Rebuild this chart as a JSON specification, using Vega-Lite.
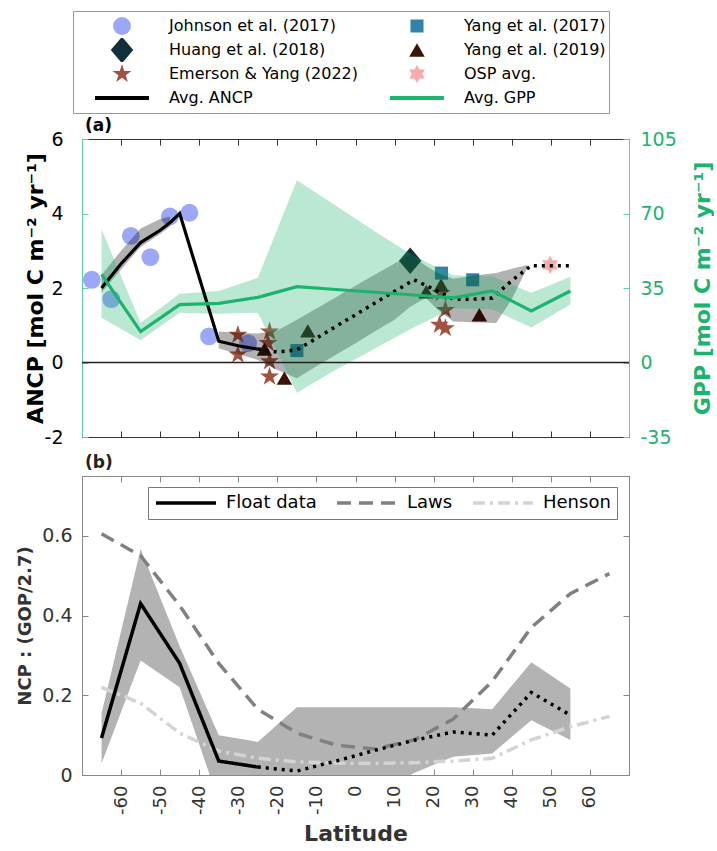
{
  "$schema": "https://vega.github.io/schema/vega-lite/v6.json",
  "padding": {"left": 16, "right": 0, "top": 10, "bottom": 0},
  "config": {"font": "DejaVu Sans", "view": {"stroke": null}, "axis": {"grid": false}},
  "spacing": 5,
  "resolve": {
    "scale": {"x": "independent", "y": "independent", "color": "independent", "shape": "independent", "size": "independent", "strokeDash": "independent"},
    "legend": {"color": "independent", "strokeDash": "independent"}
  },
  "datasets": {
    "markers": [
      {"src": "Johnson et al. (2017)", "lat": -67.5, "ancp": 2.22},
      {"src": "Johnson et al. (2017)", "lat": -62.5, "ancp": 1.7},
      {"src": "Johnson et al. (2017)", "lat": -57.5, "ancp": 3.4},
      {"src": "Johnson et al. (2017)", "lat": -52.5, "ancp": 2.83},
      {"src": "Johnson et al. (2017)", "lat": -47.5, "ancp": 3.92},
      {"src": "Johnson et al. (2017)", "lat": -42.5, "ancp": 4.02},
      {"src": "Johnson et al. (2017)", "lat": -37.5, "ancp": 0.7},
      {"src": "Johnson et al. (2017)", "lat": -27.5, "ancp": 0.52},
      {"src": "Emerson & Yang (2022)", "lat": -30.1, "ancp": 0.74},
      {"src": "Emerson & Yang (2022)", "lat": -30.1, "ancp": 0.21},
      {"src": "Emerson & Yang (2022)", "lat": -22.0, "ancp": 0.83},
      {"src": "Emerson & Yang (2022)", "lat": -22.4, "ancp": 0.52},
      {"src": "Emerson & Yang (2022)", "lat": -22.0, "ancp": 0.03},
      {"src": "Emerson & Yang (2022)", "lat": -22.0, "ancp": -0.38},
      {"src": "Emerson & Yang (2022)", "lat": 21.9, "ancp": 1.86},
      {"src": "Emerson & Yang (2022)", "lat": 23.0, "ancp": 1.41},
      {"src": "Emerson & Yang (2022)", "lat": 21.5, "ancp": 1.01},
      {"src": "Emerson & Yang (2022)", "lat": 23.0, "ancp": 0.92},
      {"src": "Yang et al. (2019)", "lat": -23.3, "ancp": 0.36},
      {"src": "Yang et al. (2019)", "lat": -18.2, "ancp": -0.42},
      {"src": "Yang et al. (2019)", "lat": -12.2, "ancp": 0.85},
      {"src": "Yang et al. (2019)", "lat": 18.1, "ancp": 1.9},
      {"src": "Yang et al. (2019)", "lat": 21.9, "ancp": 2.08},
      {"src": "Yang et al. (2019)", "lat": 31.7, "ancp": 1.28},
      {"src": "Yang et al. (2017)", "lat": -15.0, "ancp": 0.32},
      {"src": "Yang et al. (2017)", "lat": 22.0, "ancp": 2.4},
      {"src": "Yang et al. (2017)", "lat": 30.0, "ancp": 2.22},
      {"src": "Huang et al. (2018)", "lat": 14.0, "ancp": 2.73},
      {"src": "OSP avg.", "lat": 49.8, "ancp": 2.62}
    ],
    "ancp_solid": [
      {"lat": -65, "ancp": 2.0}, {"lat": -60, "ancp": 2.65}, {"lat": -55, "ancp": 3.22},
      {"lat": -50, "ancp": 3.55}, {"lat": -47.5, "ancp": 3.75}, {"lat": -45, "ancp": 4.0},
      {"lat": -35, "ancp": 0.57}, {"lat": -30, "ancp": 0.45}, {"lat": -25, "ancp": 0.36}
    ],
    "ancp_dot": [
      {"lat": -25, "ancp": 0.36}, {"lat": -20, "ancp": 0.28}, {"lat": -15, "ancp": 0.34},
      {"lat": -10, "ancp": 0.65}, {"lat": -5, "ancp": 0.97}, {"lat": 0, "ancp": 1.28},
      {"lat": 5, "ancp": 1.6}, {"lat": 10, "ancp": 1.91}, {"lat": 15, "ancp": 2.22},
      {"lat": 20, "ancp": 1.97}, {"lat": 25, "ancp": 1.7}, {"lat": 30, "ancp": 1.7},
      {"lat": 35, "ancp": 1.73}, {"lat": 40, "ancp": 2.2}, {"lat": 45, "ancp": 2.6},
      {"lat": 50, "ancp": 2.6}, {"lat": 55, "ancp": 2.6}
    ],
    "band1": [
      {"lat": -65, "lo": 1.87, "hi": 2.35}, {"lat": -60, "lo": 2.5, "hi": 3.0},
      {"lat": -55, "lo": 3.1, "hi": 3.6}, {"lat": -50, "lo": 3.45, "hi": 3.85},
      {"lat": -47.5, "lo": 3.65, "hi": 3.92}
    ],
    "band2": [
      {"lat": -35, "lo": 0.38, "hi": 0.83}, {"lat": -30, "lo": 0.22, "hi": 0.8},
      {"lat": -25, "lo": 0.07, "hi": 0.78}, {"lat": -20, "lo": -0.2, "hi": 0.86},
      {"lat": -15, "lo": -0.42, "hi": 1.15}, {"lat": -10, "lo": -0.1, "hi": 1.45},
      {"lat": -5, "lo": 0.21, "hi": 1.75}, {"lat": 0, "lo": 0.52, "hi": 2.06},
      {"lat": 5, "lo": 0.84, "hi": 2.36}, {"lat": 10, "lo": 1.15, "hi": 2.66},
      {"lat": 14, "lo": 1.5, "hi": 2.9}, {"lat": 18, "lo": 1.73, "hi": 2.6},
      {"lat": 21, "lo": 1.42, "hi": 2.4}, {"lat": 25, "lo": 1.1, "hi": 2.25},
      {"lat": 30, "lo": 1.08, "hi": 2.33}, {"lat": 36, "lo": 1.06, "hi": 2.4},
      {"lat": 40, "lo": 1.7, "hi": 2.52}, {"lat": 44, "lo": 2.55, "hi": 2.62}
    ],
    "gpp": [
      {"lat": -65, "gpp": 41.4, "lo": 21.0, "hi": 62.6},
      {"lat": -55, "gpp": 14.5, "lo": 10.4, "hi": 18.7},
      {"lat": -45, "gpp": 27.2, "lo": 23.4, "hi": 32.3},
      {"lat": -35, "gpp": 27.8, "lo": 22.9, "hi": 33.6},
      {"lat": -25, "gpp": 30.6, "lo": 23.4, "hi": 39.8},
      {"lat": -15, "gpp": 35.6, "lo": -14.2, "hi": 85.6},
      {"lat": -5, "gpp": 34.3, "lo": -3.4, "hi": 73.6},
      {"lat": 5, "gpp": 33.0, "lo": 6.6, "hi": 61.6},
      {"lat": 15, "gpp": 31.7, "lo": 16.6, "hi": 50.0},
      {"lat": 25, "gpp": 30.4, "lo": 25.5, "hi": 41.0},
      {"lat": 35, "gpp": 33.6, "lo": 25.0, "hi": 40.5},
      {"lat": 45, "gpp": 24.2, "lo": 16.4, "hi": 32.8},
      {"lat": 55, "gpp": 33.6, "lo": 27.3, "hi": 40.3}
    ],
    "float_band": [
      {"lat": -65, "lo": 0.029, "hi": 0.154}, {"lat": -55, "lo": 0.2875, "hi": 0.567},
      {"lat": -45, "lo": 0.22, "hi": 0.323}, {"lat": -35, "lo": -0.066, "hi": 0.1},
      {"lat": -25, "lo": -0.07, "hi": 0.083}, {"lat": -15, "lo": -0.15, "hi": 0.17},
      {"lat": -5, "lo": -0.1, "hi": 0.17}, {"lat": 5, "lo": -0.05, "hi": 0.17},
      {"lat": 15, "lo": 0.005, "hi": 0.17}, {"lat": 25, "lo": 0.046, "hi": 0.17},
      {"lat": 35, "lo": 0.054, "hi": 0.165}, {"lat": 45, "lo": 0.1375, "hi": 0.283},
      {"lat": 55, "lo": 0.0875, "hi": 0.217}
    ],
    "lines_b": [
      {"series": "Laws", "lat": -65, "v": 0.605}, {"series": "Laws", "lat": -55, "v": 0.55},
      {"series": "Laws", "lat": -45, "v": 0.425}, {"series": "Laws", "lat": -35, "v": 0.28},
      {"series": "Laws", "lat": -25, "v": 0.165}, {"series": "Laws", "lat": -15, "v": 0.105},
      {"series": "Laws", "lat": -5, "v": 0.075}, {"series": "Laws", "lat": 5, "v": 0.065},
      {"series": "Laws", "lat": 15, "v": 0.088}, {"series": "Laws", "lat": 25, "v": 0.14},
      {"series": "Laws", "lat": 35, "v": 0.235}, {"series": "Laws", "lat": 45, "v": 0.37},
      {"series": "Laws", "lat": 55, "v": 0.455}, {"series": "Laws", "lat": 65, "v": 0.505},
      {"series": "Henson", "lat": -65, "v": 0.22}, {"series": "Henson", "lat": -55, "v": 0.18},
      {"series": "Henson", "lat": -45, "v": 0.105}, {"series": "Henson", "lat": -35, "v": 0.06},
      {"series": "Henson", "lat": -25, "v": 0.042}, {"series": "Henson", "lat": -15, "v": 0.033},
      {"series": "Henson", "lat": -5, "v": 0.03}, {"series": "Henson", "lat": 5, "v": 0.029},
      {"series": "Henson", "lat": 15, "v": 0.031}, {"series": "Henson", "lat": 25, "v": 0.035},
      {"series": "Henson", "lat": 35, "v": 0.042}, {"series": "Henson", "lat": 45, "v": 0.088},
      {"series": "Henson", "lat": 55, "v": 0.121}, {"series": "Henson", "lat": 65, "v": 0.147},
      {"series": "Float data", "lat": -65, "v": 0.093}, {"series": "Float data", "lat": -55, "v": 0.43},
      {"series": "Float data", "lat": -45, "v": 0.28}, {"series": "Float data", "lat": -35, "v": 0.035},
      {"series": "Float data", "lat": -25, "v": 0.02}
    ],
    "float_dot": [
      {"lat": -25, "v": 0.02}, {"lat": -15, "v": 0.01}, {"lat": -5, "v": 0.035},
      {"lat": 5, "v": 0.062}, {"lat": 15, "v": 0.087}, {"lat": 25, "v": 0.108},
      {"lat": 35, "v": 0.1}, {"lat": 45, "v": 0.207}, {"lat": 55, "v": 0.15}
    ]
  },
  "vconcat": [
    {
      "width": 547,
      "height": 298,
      "view": {"stroke": "#444", "strokeWidth": 1},
      "resolve": {"scale": {"y": "independent"}, "axis": {"x": "independent", "y": "independent"}},
      "layer": [
        {
          "data": {"name": "markers"},
          "mark": {"type": "point", "filled": true, "opacity": 1},
          "encoding": {
            "x": {"field": "lat", "type": "quantitative", "scale": {"domain": [-70, 70], "nice": false, "zero": false},
                  "axis": {"orient": "bottom", "values": [-60, -50, -40, -30, -20, -10, 0, 10, 20, 30, 40, 50, 60], "labels": false, "tickSize": -6, "tickColor": "#333", "domainColor": "#333", "title": null}},
            "y": {"field": "ancp", "type": "quantitative", "scale": {"domain": [-2, 6], "nice": false, "zero": false},
                  "axis": {"orient": "left", "values": [-2, 0, 2, 4, 6], "labelExpr": "replace(datum.label, '−', '-')", "tickSize": -6, "labelPadding": 25, "labelFontSize": 19, "labelColor": "#000", "tickColor": "#5fcf9f", "domainColor": "#5fcf9f", "title": "ANCP [mol C m⁻² yr⁻¹]", "titleFontSize": 22, "titleFontWeight": "bold", "titleColor": "#000", "titlePadding": -3}},
            "color": {"field": "src", "type": "nominal",
              "scale": {"domain": ["Johnson et al. (2017)", "Huang et al. (2018)", "Emerson & Yang (2022)", "Avg. ANCP", "Yang et al. (2017)", "Yang et al. (2019)", "OSP avg.", "Avg. GPP"],
                        "range": ["#9ba8f8", "#12303a", "#a3533d", "#000000", "#2f82aa", "#3b1405", "#f9aaaa", "#1db36e"]},
              "legend": {"title": null, "orient": "none", "legendX": -9, "legendY": -128, "columns": 2, "strokeColor": "#999", "fillColor": "white", "padding": 3,
                "labelFontSize": 16, "labelColor": "#000", "labelLimit": 400, "symbolSize": 2916, "clipHeight": 24, "rowPadding": 0, "columnPadding": 13, "symbolOffset": 18, "labelOffset": 19,
                "encode": {"symbols": {"update": {
                  "shape": {"signal": "['circle', 'M0,-1L0.85,0L0,1L-0.85,0Z', 'M0,-1L0.225,-0.309L0.951,-0.309L0.363,0.118L0.588,0.809L0,0.382L-0.588,0.809L-0.363,0.118L-0.951,-0.309L-0.225,-0.309Z', 'M-1,-0.07L1,-0.07L1,0.07L-1,0.07Z', 'square', 'triangle-up', 'M0,-1L0.289,-0.5L0.866,-0.5L0.577,0L0.866,0.5L0.289,0.5L0,1L-0.289,0.5L-0.866,0.5L-0.577,0L-0.866,-0.5L-0.289,-0.5Z', 'M-1,-0.07L1,-0.07L1,0.07L-1,0.07Z'][indexof(['Johnson et al. (2017)', 'Huang et al. (2018)', 'Emerson & Yang (2022)', 'Avg. ANCP', 'Yang et al. (2017)', 'Yang et al. (2019)', 'OSP avg.', 'Avg. GPP'], datum.value)] || 'circle'"},
                  "size": {"signal": "[320, 700, 400, 2916, 170, 240, 330, 3025][indexof(['Johnson et al. (2017)', 'Huang et al. (2018)', 'Emerson & Yang (2022)', 'Avg. ANCP', 'Yang et al. (2017)', 'Yang et al. (2019)', 'OSP avg.', 'Avg. GPP'], datum.value)] || 200"},
                  "fill": {"signal": "['#9ba8f8', '#12303a', '#a3533d', '#000000', '#2f82aa', '#3b1405', '#f9aaaa', '#1db36e'][indexof(['Johnson et al. (2017)', 'Huang et al. (2018)', 'Emerson & Yang (2022)', 'Avg. ANCP', 'Yang et al. (2017)', 'Yang et al. (2019)', 'OSP avg.', 'Avg. GPP'], datum.value)] || '#888888'"},
                  "stroke": {"value": "transparent"},
                  "strokeWidth": {"value": 0},
                  "opacity": {"value": 1}
                }}}}},
            "shape": {"field": "src", "type": "nominal",
              "scale": {"domain": ["Johnson et al. (2017)", "Huang et al. (2018)", "Emerson & Yang (2022)", "Avg. ANCP", "Yang et al. (2017)", "Yang et al. (2019)", "OSP avg.", "Avg. GPP"],
                        "range": ["circle", "M0,-1L0.85,0L0,1L-0.85,0Z", "M0,-1L0.225,-0.309L0.951,-0.309L0.363,0.118L0.588,0.809L0,0.382L-0.588,0.809L-0.363,0.118L-0.951,-0.309L-0.225,-0.309Z", "M-1,-0.07L1,-0.07L1,0.07L-1,0.07Z", "square", "triangle-up", "M0,-1L0.289,-0.5L0.866,-0.5L0.577,0L0.866,0.5L0.289,0.5L0,1L-0.289,0.5L-0.866,0.5L-0.577,0L-0.866,-0.5L-0.289,-0.5Z", "M-1,-0.07L1,-0.07L1,0.07L-1,0.07Z"]},
              "legend": null},
            "size": {"field": "src", "type": "nominal",
              "scale": {"type": "ordinal", "domain": ["Johnson et al. (2017)", "Huang et al. (2018)", "Emerson & Yang (2022)", "Avg. ANCP", "Yang et al. (2017)", "Yang et al. (2019)", "OSP avg.", "Avg. GPP"],
                        "range": [320, 700, 400, 2916, 170, 240, 330, 2916]},
              "legend": null}
          }
        },
        {
          "data": {"name": "band1"},
          "mark": {"type": "area", "color": "#000000", "opacity": 0.3},
          "encoding": {
            "x": {"field": "lat", "type": "quantitative", "scale": {"domain": [-70, 70], "nice": false, "zero": false},
                  "axis": {"orient": "top", "values": [-60, -50, -40, -30, -20, -10, 0, 10, 20, 30, 40, 50, 60], "labels": false, "tickSize": -6, "tickColor": "#333", "domainColor": "#333", "title": null}},
            "y": {"field": "lo", "type": "quantitative", "scale": {"domain": [-2, 6], "nice": false, "zero": false}, "axis": null},
            "y2": {"field": "hi"}
          }
        },
        {
          "data": {"name": "band2"},
          "mark": {"type": "area", "color": "#000000", "opacity": 0.3},
          "encoding": {
            "x": {"field": "lat", "type": "quantitative", "scale": {"domain": [-70, 70], "nice": false, "zero": false}, "axis": null},
            "y": {"field": "lo", "type": "quantitative", "scale": {"domain": [-2, 6], "nice": false, "zero": false}, "axis": null},
            "y2": {"field": "hi"}
          }
        },
        {
          "data": {"name": "gpp"},
          "mark": {"type": "area", "color": "#1db36e", "opacity": 0.3},
          "encoding": {
            "x": {"field": "lat", "type": "quantitative", "scale": {"domain": [-70, 70], "nice": false, "zero": false}, "axis": null},
            "y": {"field": "lo", "type": "quantitative", "scale": {"domain": [-35, 105], "nice": false, "zero": false}, "axis": null},
            "y2": {"field": "hi"}
          }
        },
        {
          "data": {"values": [{"ancp": 0}]},
          "mark": {"type": "rule", "color": "#222", "strokeWidth": 1.5},
          "encoding": {
            "y": {"field": "ancp", "type": "quantitative", "scale": {"domain": [-2, 6], "nice": false, "zero": false}, "axis": null}
          }
        },
        {
          "data": {"name": "ancp_solid"},
          "mark": {"type": "line", "color": "#000000", "strokeWidth": 3.2},
          "encoding": {
            "x": {"field": "lat", "type": "quantitative", "scale": {"domain": [-70, 70], "nice": false, "zero": false}, "axis": null},
            "y": {"field": "ancp", "type": "quantitative", "scale": {"domain": [-2, 6], "nice": false, "zero": false}, "axis": null}
          }
        },
        {
          "data": {"name": "ancp_dot"},
          "mark": {"type": "line", "color": "#000000", "strokeWidth": 3.5, "strokeDash": [3, 5], "strokeCap": "butt"},
          "encoding": {
            "x": {"field": "lat", "type": "quantitative", "scale": {"domain": [-70, 70], "nice": false, "zero": false}, "axis": null},
            "y": {"field": "ancp", "type": "quantitative", "scale": {"domain": [-2, 6], "nice": false, "zero": false}, "axis": null}
          }
        },
        {
          "data": {"name": "gpp"},
          "mark": {"type": "line", "color": "#1db36e", "strokeWidth": 3.2},
          "encoding": {
            "x": {"field": "lat", "type": "quantitative", "scale": {"domain": [-70, 70], "nice": false, "zero": false}, "axis": null},
            "y": {"field": "gpp", "type": "quantitative", "scale": {"domain": [-35, 105], "nice": false, "zero": false},
                  "axis": {"orient": "right", "values": [-35, 0, 35, 70, 105], "labelExpr": "replace(datum.label, '−', '-')", "tickSize": -6, "labelPadding": 17, "labelFontSize": 19, "labelColor": "#1db36e", "tickColor": "#5fcf9f", "domainColor": "#5fcf9f", "title": "GPP [mol C m⁻² yr⁻¹]", "titleFontSize": 22, "titleFontWeight": "bold", "titleColor": "#1db36e", "titleAngle": 270, "titlePadding": 38}}
          }
        },
        {
          "data": {"values": [{"label": "(a)"}]},
          "mark": {"type": "text", "fontSize": 17, "fontWeight": "bold", "align": "left", "baseline": "bottom", "dx": 3, "dy": -4, "color": "#000"},
          "encoding": {
            "text": {"field": "label"},
            "x": {"datum": -70, "type": "quantitative", "scale": {"domain": [-70, 70], "nice": false, "zero": false}, "axis": null},
            "y": {"datum": 6, "type": "quantitative", "scale": {"domain": [-2, 6], "nice": false, "zero": false}, "axis": null}
          }
        }
      ]
    },
    {
      "width": 547,
      "height": 299,
      "title": {"text": "(b)", "anchor": "start", "frame": "group", "fontSize": 17, "fontWeight": "bold", "offset": 4, "dx": 3, "color": "#222"},
      "view": {"stroke": "#888", "strokeWidth": 1},
      "resolve": {"axis": {"x": "independent", "y": "independent"}},
      "layer": [
        {
          "data": {"name": "float_band"},
          "mark": {"type": "area", "color": "#b3b3b3", "opacity": 1, "clip": true},
          "encoding": {
            "x": {"field": "lat", "type": "quantitative", "scale": {"domain": [-70, 70], "nice": false, "zero": false},
                  "axis": {"orient": "bottom", "values": [-60, -50, -40, -30, -20, -10, 0, 10, 20, 30, 40, 50, 60], "labelExpr": "replace(datum.label, '−', '-')", "tickSize": -6, "labelPadding": 16, "labelAngle": 270, "labelAlign": "right", "labelBaseline": "middle", "labelFontSize": 18, "labelColor": "#333", "tickColor": "#888", "domainColor": "#888", "title": "Latitude", "titleFontSize": 22, "titleFontWeight": "bold", "titleColor": "#333", "titlePadding": 9}},
            "y": {"field": "lo", "type": "quantitative", "scale": {"domain": [0, 0.75], "nice": false, "zero": false},
                  "axis": {"orient": "left", "values": [0, 0.2, 0.4, 0.6], "labelExpr": "datum.value == 0 ? '0' : format(datum.value, '.1f')", "tickSize": -6, "labelPadding": 16, "labelFontSize": 19, "labelColor": "#333", "tickColor": "#888", "domainColor": "#888", "title": "NCP : (GOP/2.7)", "titleFontSize": 18, "titleFontWeight": "bold", "titleColor": "#333", "titlePadding": 7}},
            "y2": {"field": "hi"}
          }
        },
        {
          "data": {"name": "lines_b"},
          "mark": {"type": "line", "strokeWidth": 3.5, "strokeCap": "butt"},
          "encoding": {
            "x": {"field": "lat", "type": "quantitative", "scale": {"domain": [-70, 70], "nice": false, "zero": false},
                  "axis": {"orient": "top", "values": [-60, -50, -40, -30, -20, -10, 0, 10, 20, 30, 40, 50, 60], "labels": false, "tickSize": -6, "tickColor": "#888", "domainColor": "#888", "title": null}},
            "y": {"field": "v", "type": "quantitative", "scale": {"domain": [0, 0.75], "nice": false, "zero": false},
                  "axis": {"orient": "right", "values": [0.2, 0.4, 0.6], "labels": false, "tickSize": -6, "tickColor": "#888", "domainColor": "#888", "title": null}},
            "color": {"field": "series", "type": "nominal",
              "scale": {"domain": ["Float data", "Laws", "Henson"], "range": ["#000000", "#808080", "#d4d4d4"]},
              "legend": {"title": null, "orient": "none", "legendX": 66, "legendY": 11, "direction": "horizontal", "strokeColor": "#777", "fillColor": "white", "padding": 6,
                "symbolType": "stroke", "symbolSize": 3600, "symbolStrokeWidth": 3.5, "labelFontSize": 18, "labelColor": "#000", "labelOffset": 8, "columnPadding": 18, "clipHeight": 20}},
            "strokeDash": {"field": "series", "type": "nominal",
              "scale": {"domain": ["Float data", "Laws", "Henson"], "range": [[1, 0], [14, 8], [12, 5, 3, 5]]},
              "legend": {"title": null, "orient": "none", "legendX": 66, "legendY": 11, "direction": "horizontal", "strokeColor": "#777", "fillColor": "white", "padding": 6,
                "symbolType": "stroke", "symbolSize": 3600, "symbolStrokeWidth": 3.5, "labelFontSize": 18, "labelColor": "#000", "labelOffset": 8, "columnPadding": 18, "clipHeight": 20}}
          }
        },
        {
          "data": {"name": "float_dot"},
          "mark": {"type": "line", "color": "#000000", "strokeWidth": 3.5, "strokeDash": [3, 5], "strokeCap": "butt"},
          "encoding": {
            "x": {"field": "lat", "type": "quantitative", "scale": {"domain": [-70, 70], "nice": false, "zero": false}, "axis": null},
            "y": {"field": "v", "type": "quantitative", "scale": {"domain": [0, 0.75], "nice": false, "zero": false}, "axis": null}
          }
        }
      ]
    }
  ]
}
